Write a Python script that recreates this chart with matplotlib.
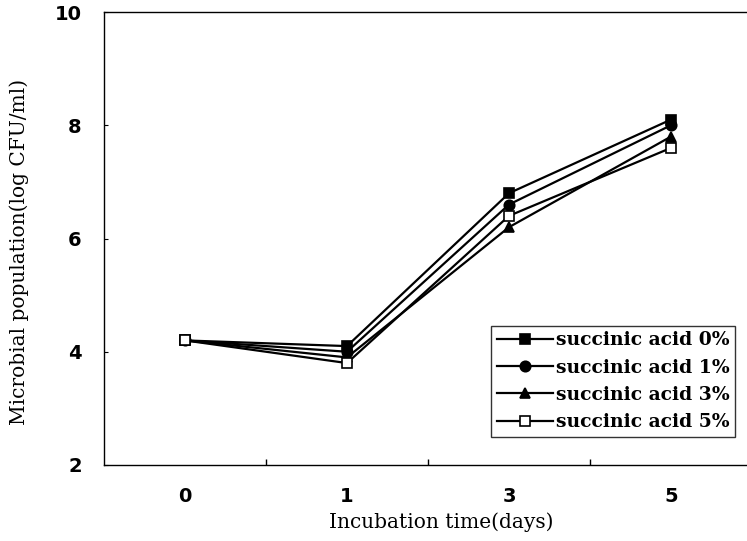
import numpy as np
import matplotlib
matplotlib.use("Agg")
import matplotlib.pyplot as plt
from matplotlib.ticker import FixedLocator

# =========================================================
# DATA
# =========================================================
days = ["0", "1", "3", "5"]

acid_0 = [4.2, 4.1, 6.8, 8.1]
acid_1 = [4.2, 4.0, 6.6, 8.0]
acid_3 = [4.2, 3.9, 6.2, 7.8]
acid_5 = [4.2, 3.8, 6.4, 7.6]

series_labels = [
    "succinic acid 0%",
    "succinic acid 1%",
    "succinic acid 3%",
    "succinic acid 5%",
]

y_ticks = [2, 4, 6, 8, 10]

# =========================================================
# PLOT
# =========================================================
fig = plt.figure(figsize=(7.47, 5.41), dpi=100)
ax = fig.add_axes([104 / 747, 1 - 465 / 541, 648 / 747, 453 / 541])

x = np.arange(len(days))

styles = [
    dict(marker="s", markerfacecolor="black"),
    dict(marker="o", markerfacecolor="black"),
    dict(marker="^", markerfacecolor="black"),
    dict(marker="s", markerfacecolor="white"),
]

for y, lab, st in zip([acid_0, acid_1, acid_3, acid_5], series_labels, styles):
    ax.plot(
        x, y,
        color="black",
        linewidth=1.6,
        markersize=7.5,
        markeredgecolor="black",
        markeredgewidth=1.2,
        label=lab,
        **st
    )

ax.set_xlim(-0.5, len(days) - 0.5)
ax.set_ylim(2, 10)

ax.set_xticks(x)
ax.set_xticklabels(days)
ax.xaxis.set_minor_locator(FixedLocator(x[:-1] + 0.5))
ax.tick_params(axis="x", which="major", length=0, pad=16)
ax.tick_params(axis="x", which="minor", direction="in", length=4, width=1)

ax.set_yticks(y_ticks)
ax.tick_params(axis="y", direction="in", length=3, pad=16)

for lbl in ax.get_xticklabels() + ax.get_yticklabels():
    lbl.set_fontfamily("DejaVu Sans")
    lbl.set_fontweight("bold")
    lbl.set_fontsize(14)

for sp in ax.spines.values():
    sp.set_linewidth(1.0)

ax.set_xlabel("Incubation time(days)", fontfamily="DejaVu Serif",
              fontsize=14.5)
ax.xaxis.set_label_coords(0.52, -0.104)
ax.set_ylabel("Microbial population(log CFU/ml)", fontfamily="DejaVu Serif",
              fontsize=14.5)
ax.yaxis.set_label_coords(-0.116, 0.47)

leg = ax.legend(
    loc="lower right",
    bbox_to_anchor=(631 / 648, 28 / 453),
    prop={"family": "DejaVu Serif", "weight": "bold", "size": 13.5},
    frameon=True,
    fancybox=False,
    edgecolor="black",
    borderpad=0.3,
    labelspacing=0.5,
    handlelength=3.0,
    handletextpad=0.15,
    borderaxespad=0,
)
leg.get_frame().set_linewidth(1.0)

fig.savefig("out.png", dpi=100)
